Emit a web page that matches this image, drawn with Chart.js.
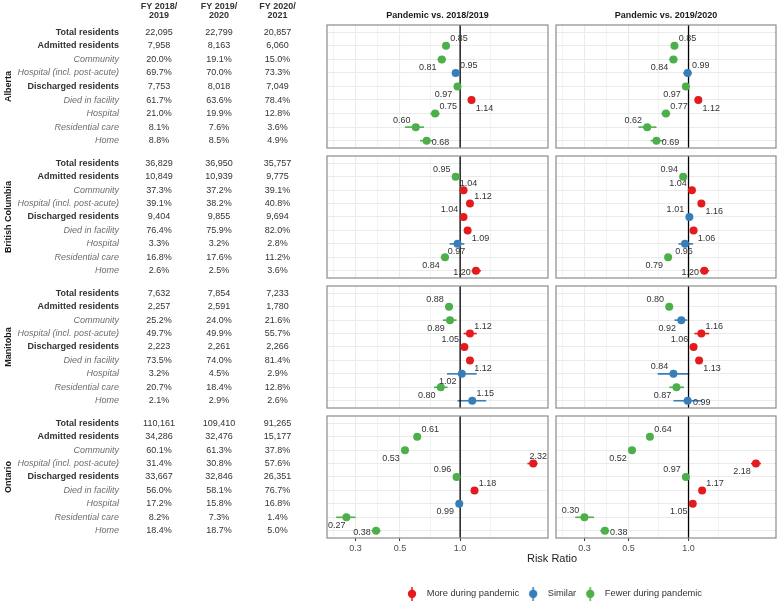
<!DOCTYPE html>
<html>
<head>
<meta charset="utf-8">
<script src="https://cdn.jsdelivr.net/npm/chart.js@4.4.1/dist/chart.umd.min.js"></script>
<style>
  body { margin: 0; background: #fff; }
  #wrap { position: relative; width: 780px; height: 602px; overflow: hidden; }
  #wrap canvas { position: absolute; }
</style>
</head>
<body>
<div id="wrap"></div>
<script>
const provinces = ['Alberta', 'British Columbia', 'Manitoba', 'Ontario'];
const rowLabels = ['Total residents', 'Admitted residents', 'Community', 'Hospital (incl. post-acute)',
  'Discharged residents', 'Died in facility', 'Hospital', 'Residential care', 'Home'];
const yearHeads = [['FY 2018/', '2019'], ['FY 2019/', '2020'], ['FY 2020/', '2021']];
const panelTitles = ['Pandemic vs. 2018/2019', 'Pandemic vs. 2019/2020'];
const legendLabels = ['More during pandemic', 'Similar', 'Fewer during pandemic'];

// table values, one row of strings per province
const fy1819 = [
  ['22,095', '7,958', '20.0%', '69.7%', '7,753', '61.7%', '21.0%', '8.1%', '8.8%'],
  ['36,829', '10,849', '37.3%', '39.1%', '9,404', '76.4%', '3.3%', '16.8%', '2.6%'],
  ['7,632', '2,257', '25.2%', '49.7%', '2,223', '73.5%', '3.2%', '20.7%', '2.1%'],
  ['110,161', '34,286', '60.1%', '31.4%', '33,667', '56.0%', '17.2%', '8.2%', '18.4%']];
const fy1920 = [
  ['22,799', '8,163', '19.1%', '70.0%', '8,018', '63.6%', '19.9%', '7.6%', '8.5%'],
  ['36,950', '10,939', '37.2%', '38.2%', '9,855', '75.9%', '3.2%', '17.6%', '2.5%'],
  ['7,854', '2,591', '24.0%', '49.9%', '2,261', '74.0%', '4.5%', '18.4%', '2.9%'],
  ['109,410', '32,476', '61.3%', '30.8%', '32,846', '58.1%', '15.8%', '7.3%', '18.7%']];
const fy2021 = [
  ['20,857', '6,060', '15.0%', '73.3%', '7,049', '78.4%', '12.8%', '3.6%', '4.9%'],
  ['35,757', '9,775', '39.1%', '40.8%', '9,694', '82.0%', '2.8%', '11.2%', '3.6%'],
  ['7,233', '1,780', '21.6%', '55.7%', '2,266', '81.4%', '2.9%', '12.8%', '2.6%'],
  ['91,265', '15,177', '37.8%', '57.6%', '26,351', '76.7%', '16.8%', '1.4%', '5.0%']];

// risk ratios (rows 1..8), pandemic vs 2018/2019
const rr1819 = [
  [0.85, 0.81, 0.95, 0.97, 1.14, 0.75, 0.60, 0.68],
  [0.95, 1.04, 1.12, 1.04, 1.09, 0.97, 0.84, 1.20],
  [0.88, 0.89, 1.12, 1.05, 1.12, 1.02, 0.80, 1.15],
  [0.61, 0.53, 2.32, 0.96, 1.18, 0.99, 0.27, 0.38]];
const lo1819 = [
  [0.82, 0.77, 0.91, 0.94, 1.10, 0.71, 0.53, 0.63],
  [0.92, 1.01, 1.09, 1.01, 1.07, 0.885, 0.80, 1.14],
  [0.84, 0.82, 1.04, 1.01, 1.09, 0.86, 0.74, 0.97],
  [0.60, 0.52, 2.17, 0.95, 1.16, 0.97, 0.24, 0.36]];
const hi1819 = [
  [0.88, 0.85, 0.99, 1.00, 1.18, 0.79, 0.66, 0.73],
  [0.98, 1.07, 1.15, 1.07, 1.11, 1.05, 0.88, 1.27],
  [0.92, 0.96, 1.21, 1.09, 1.15, 1.21, 0.865, 1.35],
  [0.62, 0.54, 2.44, 0.97, 1.20, 1.01, 0.30, 0.40]];
const cat1819 = [
  ['F', 'F', 'S', 'F', 'M', 'F', 'F', 'F'],
  ['F', 'M', 'M', 'M', 'M', 'S', 'F', 'M'],
  ['F', 'F', 'M', 'M', 'M', 'S', 'F', 'S'],
  ['F', 'F', 'M', 'F', 'M', 'S', 'F', 'F']];

// risk ratios, pandemic vs 2019/2020
const rr1920 = [
  [0.85, 0.84, 0.99, 0.97, 1.12, 0.77, 0.62, 0.69],
  [0.94, 1.04, 1.16, 1.01, 1.06, 0.96, 0.79, 1.20],
  [0.80, 0.92, 1.16, 1.06, 1.13, 0.84, 0.87, 0.99],
  [0.64, 0.52, 2.18, 0.97, 1.17, 1.05, 0.30, 0.38]];
const lo1920 = [
  [0.82, 0.80, 0.94, 0.94, 1.08, 0.73, 0.56, 0.645],
  [0.91, 1.01, 1.13, 0.99, 1.04, 0.89, 0.76, 1.14],
  [0.77, 0.85, 1.07, 1.03, 1.10, 0.70, 0.80, 0.84],
  [0.63, 0.51, 2.06, 0.96, 1.15, 1.03, 0.27, 0.36]];
const hi1920 = [
  [0.88, 0.88, 1.04, 1.00, 1.16, 0.81, 0.69, 0.75],
  [0.97, 1.07, 1.19, 1.03, 1.08, 1.055, 0.82, 1.27],
  [0.83, 0.985, 1.27, 1.09, 1.16, 1.01, 0.95, 1.17],
  [0.65, 0.53, 2.31, 0.98, 1.19, 1.07, 0.335, 0.40]];
const cat1920 = [
  ['F', 'F', 'S', 'F', 'M', 'F', 'F', 'F'],
  ['F', 'M', 'M', 'S', 'M', 'S', 'F', 'M'],
  ['F', 'S', 'M', 'M', 'M', 'S', 'F', 'S'],
  ['F', 'F', 'M', 'F', 'M', 'M', 'F', 'F']];

const xTicks = [0.3, 0.5, 1.0];
const xMinor = [0.2323, 0.3873, 0.7071, 1.4142];

// where each number label sits next to its point
const labelPos1819 = [
  ['ur', 'dl', 'ur', 'dl', 'dr', 'ur', 'ul', 'r'],
  ['ul', 'u', 'ur', 'ul', 'dr', 'd', 'dl', 'l'],
  ['ul', 'dl', 'ur', 'ul', 'dr', 'dl', 'dl', 'ur'],
  ['ur', 'dl', 'u', 'ul', 'ur', 'dl', 'dl', 'l']];
const labelPos1920 = [
  ['ur', 'dl', 'ur', 'dl', 'dr', 'ur', 'ul', 'r'],
  ['ul', 'ul', 'dr', 'ul', 'dr', 'd', 'dl', 'l'],
  ['ul', 'dl', 'ur', 'ul', 'dr', 'ul', 'dl', 'r'],
  ['ur', 'dl', 'dl', 'ul', 'ur', 'dl', 'ul', 'r']];

const FONT = '"Liberation Sans", Arial, Helvetica, sans-serif';
const colorOf = { M: '#E41A1C', S: '#377EB8', F: '#4DAF4A' };
const nudge = { ur: [13, -7], ul: [-14, -7], dr: [13, 8], dl: [-14, 8], u: [5, -7], d: [-1, 8], r: [14, 2], l: [-14, 2] };

const rowTops = [0, 152, 282, 412];
const rowHeights = [152, 130, 130, 146];
const padTop = [25, 3, 3, 3];
const padBottom = [4, 4, 4, 0];
const cols = [{ left: 0, width: 552, padL: 327, padR: 3 }, { left: 552, width: 228, padL: 4, padR: 3 }];
const colX = [159, 219, 277.5];

const wrap = document.getElementById('wrap');
const gridBreaks = xTicks.concat(xMinor).sort((a, b) => a - b);

function addCanvas(left, top, w, h) {
  const c = document.createElement('canvas');
  c.width = w; c.height = h;
  c.style.left = left + 'px'; c.style.top = top + 'px';
  wrap.appendChild(c);
  return c;
}

function makePanel(r, c) {
  const col = cols[c];
  const rr = (c === 0 ? rr1819 : rr1920)[r];
  const lo = (c === 0 ? lo1819 : lo1920)[r];
  const hi = (c === 0 ? hi1819 : hi1920)[r];
  const cats = (c === 0 ? cat1819 : cat1920)[r];
  const pos = (c === 0 ? labelPos1819 : labelPos1920)[r];
  const bottom = r === 3;
  const canvas = addCanvas(col.left, rowTops[r], col.width, rowHeights[r]);

  const errorBars = {
    id: 'errorBars',
    beforeDatasetsDraw(chart) {
      const { ctx, scales: { x, y } } = chart;
      ctx.save();
      ctx.lineWidth = 1.6;
      rr.forEach((v, i) => {
        const py = y.getPixelForValue(i + 1);
        ctx.strokeStyle = colorOf[cats[i]];
        ctx.beginPath();
        ctx.moveTo(x.getPixelForValue(lo[i]), py);
        ctx.lineTo(x.getPixelForValue(hi[i]), py);
        ctx.stroke();
      });
      ctx.restore();
    }
  };

  const panelDeco = {
    id: 'panelDeco',
    afterDraw(chart) {
      const { ctx, chartArea: a, scales: { x, y } } = chart;
      ctx.save();
      // number labels
      ctx.font = '9px ' + FONT;
      ctx.fillStyle = '#333333';
      ctx.textAlign = 'center';
      ctx.textBaseline = 'middle';
      rr.forEach((v, i) => {
        const t = v.toFixed(2);
        const w = ctx.measureText(t).width;
        const [dx, dy] = nudge[pos[i]];
        let px = x.getPixelForValue(v) + dx;
        px = Math.min(Math.max(px, a.left + w / 2 + 1), a.right - w / 2 - 1);
        ctx.fillText(t, px, y.getPixelForValue(i + 1) + dy);
      });
      // panel border
      ctx.strokeStyle = '#8C8C8C';
      ctx.lineWidth = 1.2;
      ctx.strokeRect(a.left, a.top, a.right - a.left, a.bottom - a.top);
      // facet title
      if (r === 0) {
        ctx.font = 'bold 9px ' + FONT;
        ctx.fillStyle = '#1A1A1A';
        ctx.fillText(panelTitles[c], (a.left + a.right) / 2, 16);
      }
      // table on the left
      if (c === 0) {
        rowLabels.forEach((lab, i) => {
          const py = y.getPixelForValue(i);
          const bold = lab.endsWith('residents');
          ctx.font = (bold ? 'bold ' : 'italic ') + '9px ' + FONT;
          ctx.fillStyle = bold ? '#333333' : '#6E6E6E';
          ctx.textAlign = 'right';
          ctx.fillText(lab, 119, py);
          ctx.font = '9px ' + FONT;
          ctx.fillStyle = '#333333';
          ctx.textAlign = 'center';
          [fy1819, fy1920, fy2021].forEach((tbl, k) => ctx.fillText(tbl[r][i], colX[k], py));
        });
        if (r === 0) {
          ctx.font = 'bold 9px ' + FONT;
          ctx.fillStyle = '#333333';
          yearHeads.forEach((h, k) => {
            ctx.fillText(h[0], colX[k], 6.5);
            ctx.fillText(h[1], colX[k], 16);
          });
        }
        ctx.translate(9, (a.top + a.bottom) / 2);
        ctx.rotate(-Math.PI / 2);
        ctx.font = 'bold 9px ' + FONT;
        ctx.fillStyle = '#1A1A1A';
        ctx.textAlign = 'center';
        ctx.fillText(provinces[r], 0, 0);
      }
      ctx.restore();
    }
  };

  new Chart(canvas, {
    type: 'scatter',
    data: {
      datasets: [
        {
          data: rr.map((v, i) => ({ x: v, y: i + 1 })),
          pointBackgroundColor: cats.map(k => colorOf[k]),
          pointBorderColor: cats.map(k => colorOf[k]),
          pointBorderWidth: 0,
          pointRadius: 4,
          order: 0
        },
        {
          data: [{ x: 1, y: -1 }, { x: 1, y: 9 }],
          showLine: true,
          borderColor: '#000000',
          borderWidth: 1.3,
          pointRadius: 0,
          order: 1
        }
      ]
    },
    options: {
      responsive: false,
      animation: false,
      events: [],
      layout: { padding: { left: col.padL, right: col.padR, top: padTop[r], bottom: padBottom[r] } },
      plugins: { legend: { display: false }, tooltip: { enabled: false } },
      scales: {
        x: {
          type: 'logarithmic',
          min: 0.216,
          max: 2.75,
          bounds: 'data',
          afterBuildTicks: s => { s.ticks = gridBreaks.map(v => ({ value: v, major: xTicks.includes(v) })); },
          afterFit: s => { s.height = bottom ? 20 : 0; },
          border: { display: false },
          grid: {
            color: '#EBEBEB',
            lineWidth: ctx => (ctx.tick && ctx.tick.major ? 1.1 : 0.6),
            drawTicks: bottom,
            tickLength: 3,
            tickWidth: 1,
            tickColor: ctx => (ctx.tick && ctx.tick.major ? '#333333' : 'rgba(0,0,0,0)')
          },
          ticks: {
            display: bottom,
            autoSkip: false,
            maxRotation: 0,
            padding: 2,
            color: '#4D4D4D',
            font: { family: FONT, size: 9 },
            callback: v => (xTicks.includes(v) ? v.toFixed(1) : '')
          }
        },
        y: {
          type: 'linear',
          min: -0.54,
          max: 8.54,
          reverse: true,
          bounds: 'data',
          afterBuildTicks: s => { s.ticks = rowLabels.map((_, i) => ({ value: i })); },
          afterFit: s => { s.width = 0; },
          border: { display: false },
          grid: { color: '#EBEBEB', lineWidth: 1.1, drawTicks: false },
          ticks: { display: false }
        }
      }
    },
    plugins: [errorBars, panelDeco]
  });
}

for (let r = 0; r < provinces.length; r++) {
  makePanel(r, 0);
  makePanel(r, 1);
}

// legend + axis title
function legendMarker(color) {
  const c = document.createElement('canvas');
  c.width = 10; c.height = 14;
  const g = c.getContext('2d');
  g.strokeStyle = color; g.lineWidth = 1.5;
  g.beginPath(); g.moveTo(5, 0); g.lineTo(5, 14); g.stroke();
  g.fillStyle = color;
  g.beginPath(); g.arc(5, 7, 4.2, 0, Math.PI * 2); g.fill();
  return c;
}
const legendKeys = ['M', 'S', 'F'];
const legendCanvas = addCanvas(327, 548, 450, 54);
new Chart(legendCanvas, {
  type: 'scatter',
  data: {
    datasets: legendLabels.map((l, k) => ({
      label: l,
      data: [],
      pointStyle: legendMarker(colorOf[legendKeys[k]]),
      backgroundColor: colorOf[legendKeys[k]],
      borderColor: colorOf[legendKeys[k]]
    }))
  },
  options: {
    responsive: false,
    animation: false,
    events: [],
    plugins: {
      tooltip: { enabled: false },
      title: {
        display: true,
        text: 'Risk Ratio',
        color: '#222222',
        font: { family: FONT, size: 11, weight: 'normal' },
        padding: { top: 4, bottom: 20 }
      },
      legend: {
        display: true,
        position: 'top',
        labels: {
          usePointStyle: true,
          pointStyleWidth: 20,
          color: '#333333',
          font: { family: FONT, size: 9.3 },
          padding: 4
        }
      }
    },
    scales: { x: { display: false }, y: { display: false } }
  }
});
</script>
</body>
</html>
